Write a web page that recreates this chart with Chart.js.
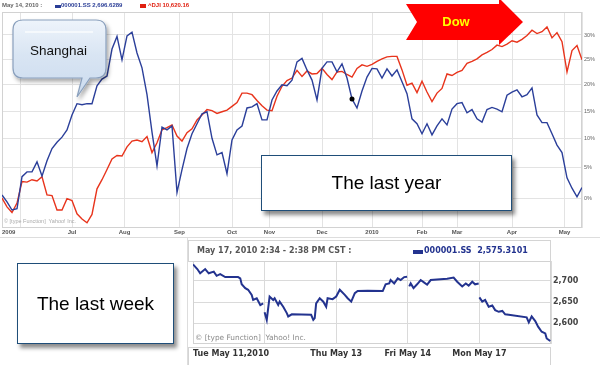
<!DOCTYPE html>
<html lang="en">
<head>
<meta charset="UTF-8">
<title>Shanghai vs Dow</title>
<script src="https://cdn.jsdelivr.net/npm/chart.js"></script>
<style>
  body { margin: 0; background: #fff; }
  #wrap { position: relative; width: 600px; height: 365px; overflow: hidden; font-family: 'Liberation Sans', Arial, sans-serif; }
  canvas { position: absolute; }
  #yearChart { left: 0; top: 0; }
  #weekChart { left: 188px; top: 238px; }
  .abs { position: absolute; white-space: nowrap; }
  .small { font: bold 6px 'Liberation Sans', Arial, sans-serif; }
  .mid { font: bold 8px 'DejaVu Sans', Verdana, sans-serif; }
  .bar { position: absolute; height: 3px; }
  .box { position: absolute; box-sizing: border-box; background: #fff; border: 1.5px solid #1f4e79;
         box-shadow: 3px 4px 4px rgba(0,0,0,0.45); display: flex; align-items: center; justify-content: center;
         font: 19px 'Liberation Sans', Arial, sans-serif; color: #000; }
</style>
</head>
<body>
<div id="wrap">
  <!-- frames under the charts -->
  <div class="abs" style="left:0;top:237px;width:600px;height:1px;background:#ddd"></div>
  <div class="abs" style="left:187px;top:237px;width:1px;height:128px;background:#ddd"></div>
  <div class="abs" style="left:188px;top:240px;width:363px;height:22px;box-sizing:border-box;border:1px solid #d4d4d4"></div>
  <div class="abs" style="left:188px;top:347px;width:363px;height:20px;box-sizing:border-box;border:1px solid #d4d4d4"></div>

  <canvas id="yearChart" width="600" height="238"></canvas>
  <canvas id="weekChart" width="412" height="127"></canvas>

  <!-- year chart header -->
  <div class="abs small" style="left:2px;top:2px;color:#666">May 14, 2010 :</div>
  <div class="bar" style="left:55px;top:5px;width:6px;background:#2a3d96"></div>
  <div class="abs small" style="left:61px;top:2px;color:#2a3d96">000001.SS 2,696.6289</div>
  <div class="bar" style="left:140px;top:4px;width:6px;height:4px;background:#e02010"></div>
  <div class="abs small" style="left:148px;top:2px;color:#e02010">^DJI 10,620.16</div>
  <div class="abs" style="left:4px;top:218px;font:5.5px 'Liberation Sans',Arial,sans-serif;color:#aaa">&copy; [type Function]&nbsp; Yahoo! Inc.</div>

  <!-- week chart header -->
  <div class="abs mid" style="left:197px;top:246px;color:#555">May 17, 2010 2:34 - 2:38 PM CST :</div>
  <div class="bar" style="left:413px;top:250px;width:10px;height:4px;background:#23338f"></div>
  <div class="abs mid" style="left:424px;top:246px;color:#23338f">000001.SS&nbsp; 2,575.3101</div>
  <div class="abs" style="left:195px;top:333px;font:7.4px 'DejaVu Sans',Verdana,sans-serif;color:#8a8a8a">&copy; [type Function]&nbsp; Yahoo! Inc.</div>

  <!-- callouts -->
  <svg class="abs" style="left:0;top:0" width="600" height="365">
    <defs>
      <linearGradient id="bubble" x1="0" y1="0" x2="0" y2="1">
        <stop offset="0" stop-color="#eef4fb"/>
        <stop offset="0.45" stop-color="#d9e5f3"/>
        <stop offset="1" stop-color="#cbdbee"/>
      </linearGradient>
      <filter id="shadow" x="-20%" y="-20%" width="150%" height="150%">
        <feDropShadow dx="2" dy="3" stdDeviation="2" flood-color="#000" flood-opacity="0.35"/>
      </filter>
    </defs>
    <path d="M23,20 H96 Q106,20 106,30 V68 Q106,78 96,78 H90 L77,97 L82,78 H23 Q13,78 13,68 V30 Q13,20 23,20 Z"
          fill="url(#bubble)" stroke="#8aa0bd" stroke-width="1.2" filter="url(#shadow)"/>
    <line x1="25" y1="32" x2="93" y2="32" stroke="#ffffff" stroke-width="1.5" opacity="0.8"/>
    <text x="30" y="55" font-family="Liberation Sans, Arial, sans-serif" font-size="13.5" fill="#111">Shanghai</text>
    <polygon points="406,4 499,4 499,-2 523,22 499,45 499,40 406,40 417,22" fill="#ff0000"/>
    <text x="456" y="26" text-anchor="middle" font-family="Liberation Sans, Arial, sans-serif" font-size="13" font-weight="bold" fill="#ffff00">Dow</text>
  </svg>
  <div class="box" style="left:261px;top:155px;width:251px;height:56px">The last year</div>
  <div class="box" style="left:17px;top:263px;width:157px;height:81px">The last week</div>
</div>

<script>
// ---- last year: % change, one value every 2 trading days from May 14, 2009
const shanghai = [0.5,-0.6,-1.9,-1.7,3.5,4.3,4.3,6.0,3.6,6.2,
  8.3,9.4,10.3,11.6,14.3,16.4,16.2,16.4,16.4,19.8,
  21.1,21.7,27.1,29.7,24.9,29.8,30.6,26.3,23.3,18.1,
  11.2,5.3,12.1,11.6,12.3,0.9,4.7,8.3,10.9,12.7,
  14.5,14.9,10.1,7.2,7.6,4.0,9.8,11.6,12.3,15.6,
  15.8,16.4,13.4,13.4,17.1,18.8,20.0,19.8,20.9,24.5,
  25.2,22.9,20.9,17.1,23.2,24.5,24.5,22.5,24.1,21.3,
  17.3,15.6,18.8,21.5,23.2,23.1,21.3,23.1,21.7,22.9,
  20.6,18.3,13.6,12.7,10.9,12.7,10.7,12.3,13.6,12.5,
  15.4,16.4,16.6,14.7,15.3,13.6,13.0,15.3,15.7,15.4,
  14.9,18.0,18.6,19.0,17.7,18.1,19.4,14.3,12.9,12.9,
  10.9,8.9,7.6,3.3,1.6,0.2,1.7];
const dow = [0.0,-1.4,-2.3,-0.8,2.7,2.6,3.0,2.8,3.5,0.5,
  0.4,-1.9,-1.9,-0.1,-0.4,-2.5,-3.3,-3.9,-2.6,1.5,
  3.0,4.7,6.5,7.1,7.0,8.6,9.6,9.8,9.5,10.4,
  7.6,9.3,11.6,12.0,12.5,10.5,9.6,11.1,11.8,13.4,
  14.3,15.3,15.1,14.6,14.9,15.2,15.9,16.6,18.4,18.4,
  18.1,17.0,16.0,15.2,15.1,17.8,19.7,20.8,21.3,22.8,
  21.6,22.7,22.1,22.2,23.2,22.0,21.0,22.5,22.6,22.0,
  21.5,23.2,23.9,23.6,24.0,24.6,25.1,25.5,25.6,25.6,
  22.9,19.9,20.3,18.5,20.7,18.6,16.8,18.4,19.3,22.1,
  21.8,22.4,22.8,24.2,24.6,25.1,25.9,26.4,27.0,27.9,
  27.6,28.1,28.8,28.5,29.1,29.9,31.0,30.3,30.7,31.7,
  29.4,30.5,28.6,22.5,26.8,27.8,24.9];
const dayStep = 2;
const markedPoint = 70;   // the black dot on the Shanghai line

const monthDays   = [0, 7.6, 28, 49, 71, 92, 107, 128, 148, 168, 182, 204, 225, 232];
const monthLabels = ['2009', '', 'Jul', 'Aug', 'Sep', 'Oct', 'Nov', 'Dec', '2010', 'Feb', 'Mar', 'Apr', 'May', ''];
const pctTicks    = [0, 5, 10, 15, 20, 25, 30];

// ---- last week: 000001.SS intraday, time in trading days from Tue May 11 (null = market closed)
const weekTime = [0.00,0.06,0.10,0.17,0.22,0.29,0.33,0.38,0.45,0.63,0.66,0.68,0.73,0.77,0.82,0.84,0.89,0.94,0.98,0.99,
  1.00,1.03,1.07,1.12,1.14,1.19,1.21,1.26,1.31,1.33,1.38,1.65,1.68,1.70,1.72,1.77,1.82,1.86,1.88,1.95,
  2.00,2.05,2.12,2.16,2.21,2.26,2.30,2.44,2.65,2.69,2.74,2.76,2.81,2.86,2.90,2.95,2.99,3.00,
  3.02,3.04,3.08,3.13,3.18,3.23,3.27,3.32,3.55,3.64,3.69,3.76,3.81,3.85,3.90,3.94,3.99,3.995,
  4.00,4.04,4.08,4.13,4.18,4.22,4.27,4.32,4.36,4.41,4.66,4.69,4.73,4.78,4.82,4.87,4.92,4.94,4.99];
const weekPrice = [2739,2728,2718,2728,2718,2722,2712,2716,2709,2709,2706,2692,2683,2679,2667,2655,2659,2643,2647,null,
  2626,2608,2663,2655,2659,2643,2651,2639,2624,2616,2621,2620,2608,2612,2647,2659,2651,2639,2659,2657,
  2663,2679,2667,2659,2651,2671,2676,2677,2676,2692,2694,2702,2694,2706,2702,2709,2710,null,
  2687,2694,2683,2692,2702,2696,2691,2702,2705,2708,2698,2687,2694,2689,2698,2692,2694,null,
  2661,2651,2655,2639,2642,2631,2627,2629,2621,2620,2614,2602,2616,2605,2592,2580,2576,2564,2558];
const weekDays   = [0, 1, 2, 3, 4, 5];
const weekLabels = ['Tue May 11,2010', '', 'Thu May 13', 'Fri May 14', 'Mon May 17', ''];
const priceTicks = [2600, 2650, 2700];

const BLUE = '#2b3f9a';
const RED = '#e8341c';

// thin grey box around the plot area
const frame = {
  id: 'frame',
  beforeDatasetsDraw(chart) {
    const { ctx, chartArea: a } = chart;
    ctx.save();
    ctx.strokeStyle = '#d2d2d2';
    ctx.lineWidth = 1;
    ctx.strokeRect(a.left + 0.5, a.top + 0.5, a.width - 1, a.height - 1);
    ctx.restore();
  }
};

const noChrome = { legend: { display: false }, tooltip: { enabled: false } };

// last year chart
new Chart(document.getElementById('yearChart'), {
  type: 'line',
  data: {
    datasets: [
      {
        label: '000001.SS',
        data: shanghai.map((v, i) => ({ x: i * dayStep, y: 100 + v })),
        borderColor: BLUE,
        borderWidth: 1.4,
        pointRadius: ctx => ctx.dataIndex === markedPoint ? 2.5 : 0,
        pointBackgroundColor: '#000',
        pointBorderWidth: 0
      },
      {
        label: '^DJI',
        data: dow.map((v, i) => ({ x: i * dayStep, y: 100 + v })),
        borderColor: RED,
        borderWidth: 1.4,
        pointRadius: 0
      }
    ]
  },
  options: {
    responsive: false,
    animation: false,
    plugins: noChrome,
    layout: { padding: { left: 2, top: 12 } },
    scales: {
      x: {
        type: 'linear',
        min: 0,
        max: 232,
        afterBuildTicks: s => { s.ticks = monthDays.map(v => ({ value: v })); },
        afterFit: s => { s.height = 10; },
        ticks: {
          autoSkip: false,
          maxRotation: 0,
          align: 'inner',
          padding: 1,
          color: '#555',
          font: { family: 'Liberation Sans', size: 6, weight: 'bold' },
          callback: (v, i) => monthLabels[i]
        },
        grid: { color: '#e3e3e3', drawTicks: false },
        border: { display: false }
      },
      y: {
        type: 'logarithmic',
        position: 'right',
        min: 95.3,
        max: 134.9,
        afterBuildTicks: s => { s.ticks = pctTicks.map(p => ({ value: 100 + p })); },
        afterFit: s => { s.width = 18; },
        ticks: {
          padding: 2,
          color: '#666',
          font: { family: 'Liberation Sans', size: 5.5 },
          callback: v => Math.round(v - 100) + '%'
        },
        grid: { color: '#e3e3e3', drawTicks: false },
        border: { display: false }
      }
    }
  },
  plugins: [frame]
});

// last week chart
new Chart(document.getElementById('weekChart'), {
  type: 'line',
  data: {
    datasets: [{
      label: '000001.SS',
      data: weekTime.map((t, i) => ({ x: t, y: weekPrice[i] })),
      borderColor: '#23338f',
      borderWidth: 2,
      pointRadius: 0,
      spanGaps: false
    }]
  },
  options: {
    responsive: false,
    animation: false,
    plugins: noChrome,
    layout: { padding: { left: 3, top: 23 } },
    scales: {
      x: {
        type: 'linear',
        min: 0,
        max: 5,
        afterBuildTicks: s => { s.ticks = weekDays.map(v => ({ value: v })); },
        afterFit: s => { s.height = 21; },
        ticks: {
          autoSkip: false,
          maxRotation: 0,
          align: 'inner',
          padding: 5,
          color: '#333',
          font: { family: 'DejaVu Sans', size: 8, weight: 'bold' },
          callback: (v, i) => weekLabels[i]
        },
        grid: { color: '#dadada', drawTicks: false },
        border: { display: false }
      },
      y: {
        position: 'right',
        min: 2551,
        max: 2747,
        afterBuildTicks: s => { s.ticks = priceTicks.map(v => ({ value: v })); },
        afterFit: s => { s.width = 49; },
        ticks: {
          padding: 2,
          color: '#444',
          font: { family: 'DejaVu Sans', size: 8, weight: 'bold' },
          callback: v => v.toLocaleString('en-US')
        },
        grid: { color: '#dadada', drawTicks: false },
        border: { display: false }
      }
    }
  },
  plugins: [frame]
});
</script>
</body>
</html>
